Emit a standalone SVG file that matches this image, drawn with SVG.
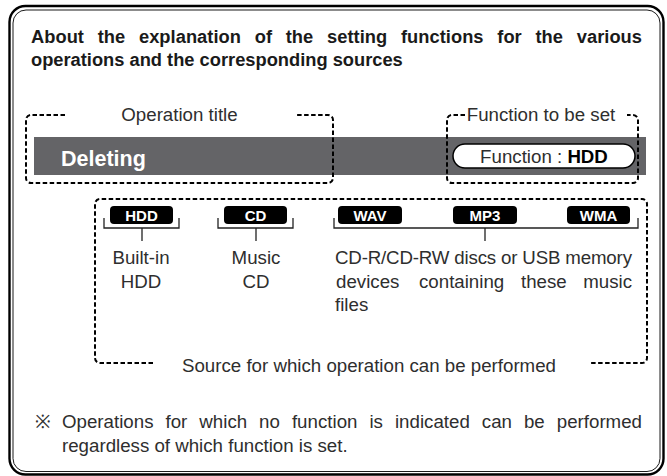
<svg xmlns="http://www.w3.org/2000/svg" width="667" height="476" viewBox="0 0 667 476">
<style>
text{font-family:"Liberation Sans",Arial,Helvetica,sans-serif}
.body{font-size:18.7px;fill:#2e2e2e}
.head{font-size:18.3px;font-weight:bold;fill:#1a1a1a}
.tag{fill:#000}
.tagt{font-size:15px;font-weight:bold;fill:#fff;text-anchor:middle}
.dash{fill:none;stroke:#000;stroke-width:2;stroke-dasharray:4.5 2.5}
.br{fill:none;stroke:#222;stroke-width:1.3}
.mid{text-anchor:middle}
</style>
<rect width="667" height="476" fill="#fff"/>
<g id="frame">
<rect x="9.5" y="6" width="654" height="468.5" rx="16" fill="none" stroke="#000" stroke-width="2.4"/>
<rect x="13" y="10" width="647" height="461.5" rx="13" fill="none" stroke="#000" stroke-width="0.9"/>
</g>
<g id="heading">
<text class="head" x="31" y="43" word-spacing="8.6" textLength="611" lengthAdjust="spacing">About the explanation of the setting functions for the various</text>
<text class="head" x="31" y="66">operations and the corresponding sources</text>
</g>
<g id="bar">
<rect x="34" y="137" width="612" height="38" fill="#646467"/>
<text x="61" y="166" font-size="21.5" font-weight="bold" fill="#fff">Deleting</text>
<rect x="453" y="144" width="182" height="24" rx="12" fill="#fff" stroke="#000" stroke-width="1.5"/>
<text class="body" x="544" y="162.5" text-anchor="middle">Function : <tspan font-weight="bold" fill="#000">HDD</tspan></text>
</g>
<g id="operation-title">
<path class="dash" d="M65 115H31a5 5 0 0 0-5 5v58a5 5 0 0 0 5 5h297a5 5 0 0 0 5-5v-58a5 5 0 0 0-5-5h-32"/>
<text class="body mid" x="179.5" y="121">Operation title</text>
</g>
<g id="function-to-be-set">
<path class="dash" d="M465 115h-13a5 5 0 0 0-5 5v58a5 5 0 0 0 5 5h181a5 5 0 0 0 5-5v-58a5 5 0 0 0-5-5h-6"/>
<text class="body mid" x="541" y="121">Function to be set</text>
</g>
<g id="source-box">
<path class="dash" d="M153 363h-53a5 5 0 0 1-5-5v-154a5 5 0 0 1 5-5h542a5 5 0 0 1 5 5v154a5 5 0 0 1-5 5h-52"/>
<text class="body mid" x="369" y="372">Source for which operation can be performed</text>
</g>
<g id="tag-hdd">
<rect class="tag" x="110" y="206" width="63" height="18" rx="4"/>
<text class="tagt" x="141.5" y="220.5">HDD</text>
</g>
<g id="tag-cd">
<rect class="tag" x="224" y="206" width="63" height="18" rx="4"/>
<text class="tagt" x="255.5" y="220.5">CD</text>
</g>
<g id="tag-wav">
<rect class="tag" x="338" y="206" width="64" height="18" rx="4"/>
<text class="tagt" x="370" y="220.5">WAV</text>
</g>
<g id="tag-mp3">
<rect class="tag" x="453" y="206" width="64" height="18" rx="4"/>
<text class="tagt" x="485" y="220.5">MP3</text>
</g>
<g id="tag-wma">
<rect class="tag" x="567" y="206" width="63" height="18" rx="4"/>
<text class="tagt" x="598.5" y="220.5">WMA</text>
</g>
<g id="connectors">
<path class="br" d="M104 218v10h75v-10M142 228v13"/>
<path class="br" d="M218 218v10h75v-10M256 228v13"/>
<path class="br" d="M334 218v10h304v-10M485 228v13"/>
</g>
<g id="label-hdd">
<text class="body mid" x="141" y="264">Built-in</text>
<text class="body mid" x="141" y="287.5">HDD</text>
</g>
<g id="label-cd">
<text class="body mid" x="256" y="264">Music</text>
<text class="body mid" x="256" y="287.5">CD</text>
</g>
<g id="label-files">
<text class="body" x="335" y="264" textLength="297" lengthAdjust="spacing">CD-R/CD-RW discs or USB memory</text>
<text class="body" x="336" y="287.5">devices</text>
<text class="body" x="419" y="287.5">containing</text>
<text class="body" x="521" y="287.5">these</text>
<text class="body" x="632" y="287.5" text-anchor="end">music</text>
<text class="body" x="335" y="311">files</text>
</g>
<g id="footnote">
<text class="body" x="35" y="428" font-family="'Noto Sans CJK JP',sans-serif">※</text>
<text class="body" x="62" y="428" word-spacing="6.8" textLength="580" lengthAdjust="spacing">Operations for which no function is indicated can be performed</text>
<text class="body" x="62" y="452">regardless of which function is set.</text>
</g>
</svg>
